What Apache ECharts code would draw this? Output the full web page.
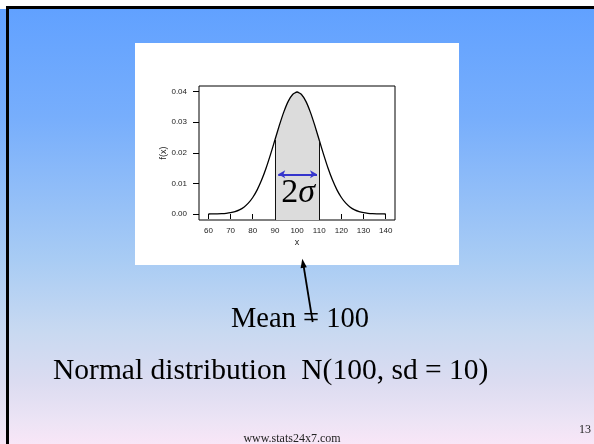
<!DOCTYPE html>
<html>
<head>
<meta charset="utf-8">
<script src="https://cdn.jsdelivr.net/npm/echarts@6/dist/echarts.min.js"></script>
<style>
  html, body { margin: 0; padding: 0; background: #fff; }
  #chart { width: 594px; height: 444px; }
</style>
</head>
<body>
<div id="chart"></div>
<script>
// Density of N(100, sd = 10), sampled every 2 units from 60 to 140
const xValues = [60, 62, 64, 66, 68, 70, 72, 74, 76, 78, 80, 82, 84, 86, 88, 90, 92, 94, 96, 98,
                 100, 102, 104, 106, 108, 110, 112, 114, 116, 118, 120, 122, 124, 126, 128, 130,
                 132, 134, 136, 138, 140];
const density = [0.00001, 0.00003, 0.00006, 0.00012, 0.00024, 0.00044, 0.00079, 0.00136, 0.00224,
                 0.00355, 0.00540, 0.00790, 0.01109, 0.01497, 0.01942, 0.02420, 0.02897, 0.03332,
                 0.03683, 0.03910, 0.03989, 0.03910, 0.03683, 0.03332, 0.02897, 0.02420, 0.01942,
                 0.01497, 0.01109, 0.00790, 0.00540, 0.00355, 0.00224, 0.00136, 0.00079, 0.00044,
                 0.00024, 0.00012, 0.00006, 0.00003, 0.00001];

// Axis ticks
const xTicks = [60, 70, 80, 90, 100, 110, 120, 130, 140];
const yTicks = [0, 0.01, 0.02, 0.03, 0.04];

// Shaded band: mean ± 1 sd
const shadeRange = [90, 110];
// Double arrow spanning the band, and its height
const spanArrowX = [91.5, 109];
const spanArrowY = 0.013;
const spanLabel = '2σ';

// Plot region limits
const xMin = 55.75, xMax = 144.2;
const yMin = -0.00196, yMax = 0.04186;

const curve = xValues.map((x, i) => [x, density[i]]);
const shade = curve.filter(p => p[0] >= shadeRange[0] && p[0] <= shadeRange[1]);
const densityAt = x => density[xValues.indexOf(x)];

const chart = echarts.init(document.getElementById('chart'), null, { renderer: 'canvas' });

const serif = '"Liberation Serif", "Times New Roman", serif';
const sans = '"Liberation Sans", Arial, Helvetica, sans-serif';

const option = {
  backgroundColor: '#ffffff',
  animation: false,
  graphic: [
    // slide background
    {
      type: 'rect', z: -20, silent: true,
      shape: { x: 0, y: 9, width: 594, height: 435 },
      style: {
        fill: {
          type: 'linear', x: 0, y: 0, x2: 0, y2: 1,
          colorStops: [
            { offset: 0.0, color: '#61a1ff' },
            { offset: 0.25, color: '#77aefc' },
            { offset: 0.58, color: '#a9ccf4' },
            { offset: 0.74, color: '#c8d9f1' },
            { offset: 0.86, color: '#dcdcf1' },
            { offset: 0.95, color: '#ede4f5' },
            { offset: 1.0, color: '#f8e6f7' }
          ]
        }
      }
    },
    { type: 'rect', z: -19, silent: true, shape: { x: 6, y: 6, width: 588, height: 3 }, style: { fill: '#000' } },
    { type: 'rect', z: -19, silent: true, shape: { x: 6, y: 6, width: 3, height: 438 }, style: { fill: '#000' } },
    // white panel holding the plot
    { type: 'rect', z: -18, silent: true, shape: { x: 135, y: 43, width: 324, height: 222 }, style: { fill: '#ffffff' } },
    // pointer from the caption to the mean
    { type: 'line', z: 20, silent: true, shape: { x1: 312.7, y1: 322, x2: 303.6, y2: 266 }, style: { stroke: '#000', lineWidth: 1.8 } },
    { type: 'polygon', z: 20, silent: true, shape: { points: [[302.3, 258.8], [306.8, 267.2], [300.6, 268.2]] }, style: { fill: '#000' } },
    // captions
    {
      type: 'text', z: 20, silent: true, x: 300, y: 320,
      style: { text: 'Mean = 100', font: '28.5px ' + serif, fill: '#000', align: 'center', verticalAlign: 'middle' }
    },
    {
      type: 'text', z: 20, silent: true, x: 53, y: 371,
      style: { text: 'Normal distribution  N(100, sd = 10)', font: '29.5px ' + serif, fill: '#000', align: 'left', verticalAlign: 'middle' }
    },
    {
      type: 'text', z: 20, silent: true, x: 292, y: 439,
      style: { text: 'www.stats24x7.com', font: '12px ' + serif, fill: '#222', align: 'center', verticalAlign: 'middle' }
    },
    {
      type: 'text', z: 20, silent: true, x: 591, y: 430,
      style: { text: '13', font: '12px ' + serif, fill: '#222', align: 'right', verticalAlign: 'middle' }
    }
  ],
  grid: {
    left: 199, top: 86, width: 196, height: 134,
    show: true, borderColor: '#000', borderWidth: 1, backgroundColor: 'transparent'
  },
  xAxis: {
    type: 'value', min: xMin, max: xMax,
    name: 'x', nameLocation: 'middle', nameGap: 18,
    nameTextStyle: { fontFamily: sans, fontSize: 9, color: '#222' },
    axisLine: { show: false },
    splitLine: { show: false },
    axisTick: { show: true, length: 5, customValues: xTicks, lineStyle: { color: '#000', width: 1 } },
    axisLabel: { customValues: xTicks, margin: 7, fontFamily: sans, fontSize: 8, color: '#222' }
  },
  yAxis: {
    type: 'value', min: yMin, max: yMax,
    name: 'f(x)', nameLocation: 'middle', nameGap: 29, nameRotate: 90,
    nameTextStyle: { fontFamily: sans, fontSize: 9, color: '#222' },
    axisLine: { show: false },
    splitLine: { show: false },
    axisTick: { show: true, length: 6, customValues: yTicks, lineStyle: { color: '#000', width: 1 } },
    axisLabel: { customValues: yTicks, margin: 12, fontFamily: sans, fontSize: 8, color: '#222',
                 formatter: v => v.toFixed(2) }
  },
  series: [
    {
      name: 'band', type: 'line', data: shade, z: 1,
      showSymbol: false, smooth: 0.2,
      lineStyle: { width: 0 },
      areaStyle: { color: '#dcdcdc', opacity: 1, origin: 'start' },
      markLine: {
        silent: true, symbol: 'none', label: { show: false },
        lineStyle: { color: '#111', width: 1, type: 'solid' },
        data: shadeRange.map(x => [{ coord: [x, yMin] }, { coord: [x, densityAt(x)] }])
      }
    },
    {
      name: 'density', type: 'line', data: curve, z: 3,
      showSymbol: false, smooth: 0.2,
      lineStyle: { color: '#000', width: 1.3 }
    },
    {
      name: 'span', type: 'line', data: [], z: 4,
      markLine: {
        silent: true, symbol: ['arrow', 'arrow'], symbolSize: [6, 7],
        label: { show: false },
        lineStyle: { color: '#3535cc', width: 2, type: 'solid' },
        data: [[{ coord: [spanArrowX[0], spanArrowY] }, { coord: [spanArrowX[1], spanArrowY] }]]
      },
      markPoint: {
        silent: true, symbol: 'circle', symbolSize: 0,
        label: {
          show: true, position: 'inside', formatter: '{a|2}{b|σ}',
          rich: {
            a: { fontFamily: serif, fontSize: 34, color: '#000' },
            b: { fontFamily: serif, fontSize: 34, fontStyle: 'italic', color: '#000' }
          }
        },
        data: [{ coord: [100.5, 0.0068], value: spanLabel }]
      }
    }
  ]
};

chart.setOption(option);
</script>
</body>
</html>
